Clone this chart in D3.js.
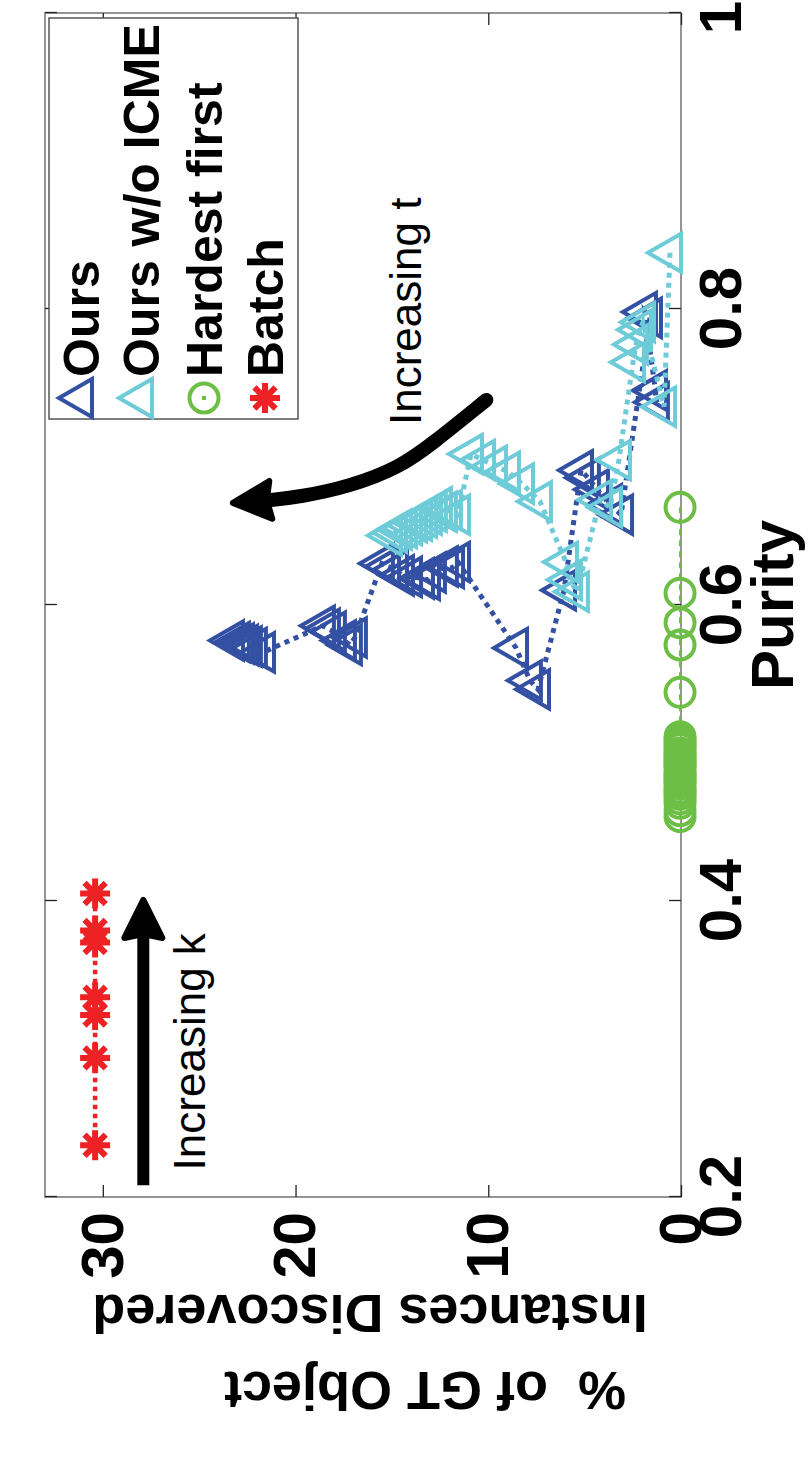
<!DOCTYPE html>
<html>
<head>
<meta charset="utf-8">
<script src="https://cdn.jsdelivr.net/npm/d3@7"></script>
<style>
  body { margin: 0; background: #fff; }
  text { font-family: "Liberation Sans", Arial, Helvetica, sans-serif; }
</style>
</head>
<body>
<div id="chart"></div>
<script>
// Purity vs. % of GT object instances discovered (figure is printed rotated)
const purityTicks = [0.2, 0.4, 0.6, 0.8, 1];
const pctTicks = [0, 10, 20, 30];

const seriesNames = ["Ours", "Ours w/o ICME", "Hardest first", "Batch"];

const oursPurity = [0.745, 0.737, 0.798, 0.794, 0.661, 0.668, 0.678, 0.686, 0.691, 0.610,
                    0.543, 0.549, 0.571, 0.629, 0.625, 0.626, 0.622, 0.617, 0.618, 0.619,
                    0.620, 0.624, 0.626, 0.628, 0.578, 0.573, 0.576, 0.582, 0.584, 0.586,
                    0.568, 0.571, 0.572, 0.573, 0.574, 0.575, 0.576];
const oursPct    = [1.35, 1.25, 1.87, 1.61, 3.11, 3.68, 4.36, 4.83, 5.19, 6.07,
                    7.42, 7.84, 8.56, 11.57, 11.88, 12.20, 12.82, 13.13, 13.44, 14.06,
                    14.48, 14.79, 15.20, 15.52, 16.92, 17.18, 17.49, 18.01, 18.32, 18.58,
                    21.69, 22.11, 22.37, 22.57, 22.78, 22.99, 23.30];

const noIcmePurity = [0.838, 0.734, 0.791, 0.786, 0.776, 0.764, 0.698, 0.666, 0.671, 0.609,
                      0.617, 0.629, 0.670, 0.682, 0.690, 0.694, 0.698, 0.702, 0.661, 0.664,
                      0.663, 0.666, 0.663, 0.661, 0.659, 0.657, 0.656, 0.654, 0.652, 0.651,
                      0.649, 0.647];
const noIcmePct    = [0.57, 0.88, 1.97, 2.13, 2.34, 2.49, 3.22, 3.68, 4.20, 5.40,
                      5.76, 5.97, 7.32, 8.25, 8.98, 9.65, 10.27, 10.90, 11.57, 11.99,
                      12.25, 12.51, 12.77, 13.03, 13.28, 13.54, 13.80, 14.06, 14.32, 14.58,
                      14.84, 15.10];

const hardestPurity = [0.666, 0.608, 0.588, 0.573, 0.541, 0.511, 0.509, 0.507, 0.505, 0.503,
                       0.500, 0.498, 0.496, 0.494, 0.492, 0.490, 0.487, 0.485, 0.483, 0.481,
                       0.479, 0.476, 0.474, 0.472, 0.469, 0.466, 0.461, 0.457];
const hardestPct    = [0.05, 0.05, 0.05, 0.05, 0.05, 0.05, 0.05, 0.05, 0.05, 0.05,
                       0.05, 0.05, 0.05, 0.05, 0.05, 0.05, 0.05, 0.05, 0.05, 0.05,
                       0.05, 0.05, 0.05, 0.05, 0.05, 0.05, 0.05, 0.05];

const batchPurity = [0.235, 0.294, 0.323, 0.335, 0.372, 0.380, 0.405];
const batchPct    = [30.4, 30.4, 30.4, 30.4, 30.4, 30.4, 30.4];

// annotation anchors, in data units
const arrowT = [[0.7385, 10.1], [0.709, 12.9], [0.693, 14.6], [0.680, 17.2], [0.673, 19.8], [0.671, 21.3]];
const arrowTTip = [0.669, 23.25];
const arrowK = [[0.208, 27.9], [0.376, 27.9]];
const arrowKTip = [0.4007, 27.9];

const colors = { ours: "#3350a3", noIcme: "#6ecbd8", hardest: "#6cbe45", batch: "#ee2224" };

const W = 1465, H = 810;   // chart drawn unrotated, then turned a quarter
const svg = d3.select("#chart").append("svg")
    .attr("width", 810)
    .attr("height", 1465);

const g = svg.append("g")
    .attr("transform", `translate(0,${W}) rotate(-90)`);

const x = d3.scaleLinear().domain([0.2, 1]).range([268, 1452]);
const y = d3.scaleLinear().domain([0, 33]).range([681, 45]);

const zip = (a, b) => a.map((d, i) => [d, b[i]]);

// frame
g.append("rect")
    .attr("x", x(0.2)).attr("y", y(33))
    .attr("width", x(1) - x(0.2)).attr("height", y(0) - y(33))
    .attr("fill", "none").attr("stroke", "#8a8a8a").attr("stroke-width", 1.8);

function styleAxis(sel) {
    sel.select(".domain").remove();
    sel.selectAll(".tick line").attr("stroke", "#222").attr("stroke-width", 1.3);
    sel.selectAll(".tick text")
        .attr("fill", "#000")
        .style("font-size", "60px")
        .style("font-weight", "bold");
}

const xAxis = g.append("g")
    .attr("transform", `translate(0,${y(0)})`)
    .call(d3.axisBottom(x).tickValues(purityTicks).tickSizeInner(-12).tickSizeOuter(0)
        .tickPadding(17).tickFormat(d => d === 1 ? "1" : d3.format(".1f")(d)))
    .call(styleAxis);
// keep the "1" inside the page edge
xAxis.selectAll(".tick text").filter(d => d === 1).attr("dx", "-5");

g.append("g")
    .attr("transform", `translate(0,${y(33)})`)
    .call(d3.axisTop(x).tickValues(purityTicks).tickSizeInner(-12).tickSizeOuter(0).tickFormat(""))
    .call(styleAxis);

g.append("g")
    .attr("transform", `translate(${x(0.2)},0)`)
    .call(d3.axisLeft(y).tickValues(pctTicks).tickSizeInner(-12).tickSizeOuter(0).tickPadding(15))
    .call(styleAxis);

g.append("g")
    .attr("transform", `translate(${x(1)},0)`)
    .call(d3.axisRight(y).tickValues(pctTicks).tickSizeInner(-12).tickSizeOuter(0).tickFormat(""))
    .call(styleAxis);

// axis labels
g.append("text")
    .attr("x", x(0.6)).attr("y", 793)
    .attr("text-anchor", "middle")
    .style("font-size", "60px").style("font-weight", "bold")
    .text("Purity");

g.append("text")
    .attr("transform", `translate(170,370) rotate(-90)`)
    .attr("text-anchor", "middle")
    .style("font-size", "54px").style("font-weight", "bold")
    .text("Instances Discovered");

g.append("text")
    .attr("transform", `translate(93,425) rotate(-90)`)
    .attr("text-anchor", "middle")
    .style("font-size", "54px").style("font-weight", "bold")
    .style("white-space", "pre")
    .text("%  of GT Object");

// markers
const triangle = d3.symbol(d3.symbolTriangle, 630);
const asterisk = {
    draw(ctx, size) {
        const r = Math.sqrt(size) / 2, d = r * Math.SQRT1_2;
        ctx.moveTo(-r, 0); ctx.lineTo(r, 0);
        ctx.moveTo(0, -r); ctx.lineTo(0, r);
        ctx.moveTo(-d, -d); ctx.lineTo(d, d);
        ctx.moveTo(-d, d); ctx.lineTo(d, -d);
    }
};
const star = d3.symbol(asterisk, 900);

const line = d3.line().x(d => x(d[0])).y(d => y(d[1]));

function drawSeries(pts, color, dash, lw, marker) {
    g.append("path")
        .datum(pts)
        .attr("d", line)
        .attr("fill", "none")
        .attr("stroke", color)
        .attr("stroke-width", lw)
        .attr("stroke-dasharray", dash);
    const m = g.append("g");
    pts.forEach(p => {
        const node = m.append(marker === "circle" ? "circle" : "path")
            .attr("fill", "none")
            .attr("stroke", color)
            .attr("stroke-width", marker === "star" ? 6 : 4);
        if (marker === "circle") {
            node.attr("cx", x(p[0])).attr("cy", y(p[1])).attr("r", 14.5);
        } else {
            node.attr("d", marker === "star" ? star() : triangle())
                .attr("transform", `translate(${x(p[0])},${y(p[1])})`);
        }
    });
}

drawSeries(zip(oursPurity, oursPct), colors.ours, "5 5", 5, "triangle");
drawSeries(zip(noIcmePurity, noIcmePct), colors.noIcme, "5 5", 5, "triangle");
drawSeries(zip(hardestPurity, hardestPct), colors.hardest, "6 5", 2, "circle");
drawSeries(zip(batchPurity, batchPct), colors.batch, "4.5 4.5", 4.5, "star");

// arrows
function arrowHead(from, tip, len, half) {
    const fx = x(from[0]), fy = y(from[1]), tx = x(tip[0]), ty = y(tip[1]);
    const dx = tx - fx, dy = ty - fy, L = Math.hypot(dx, dy);
    const ux = dx / L, uy = dy / L;
    const bx = tx - ux * len, by = ty - uy * len;
    g.append("path")
        .attr("d", `M${tx},${ty}L${bx - uy * half},${by + ux * half}L${bx + ux * 4},${by + uy * 4}L${bx + uy * half},${by - ux * half}Z`)
        .attr("fill", "#000").attr("stroke", "#000")
        .attr("stroke-width", 6).attr("stroke-linejoin", "round");
}

g.append("path")
    .datum(arrowT)
    .attr("d", line.curve(d3.curveBasis))
    .attr("fill", "none").attr("stroke", "#000").attr("stroke-width", 14)
    .attr("stroke-linecap", "round");
line.curve(d3.curveLinear);
arrowHead(arrowT[arrowT.length - 1], arrowTTip, 38, 19);

g.append("path")
    .datum(arrowK)
    .attr("d", line)
    .attr("fill", "none").attr("stroke", "#000").attr("stroke-width", 12);
arrowHead(arrowK[0], arrowKTip, 38, 19);

g.append("text")
    .attr("x", x(0.218)).attr("y", y(24.7))
    .style("font-size", "44px")
    .text("Increasing k");

g.append("text")
    .attr("x", x(0.7216)).attr("y", y(13.5))
    .style("font-size", "44px")
    .text("Increasing t");

// legend
const legend = g.append("g");
legend.append("rect")
    .attr("x", 1046).attr("y", 49)
    .attr("width", 401).attr("height", 249)
    .attr("fill", "#fff").attr("stroke", "#555").attr("stroke-width", 1.5);

const legendMarkers = ["triangle", "triangle", "circle", "star"];
const legendColors = [colors.ours, colors.noIcme, colors.hardest, colors.batch];
const rowY = [81, 141, 204, 265];

seriesNames.forEach((name, i) => {
    const cy = rowY[i];
    if (legendMarkers[i] === "circle") {
        legend.append("circle").attr("cx", 1067).attr("cy", cy).attr("r", 14.5)
            .attr("fill", "none").attr("stroke", legendColors[i]).attr("stroke-width", 4);
        legend.append("rect").attr("x", 1065).attr("y", cy - 2).attr("width", 4).attr("height", 4)
            .attr("fill", legendColors[i]);
    } else {
        legend.append("path")
            .attr("d", legendMarkers[i] === "star" ? star() : triangle())
            .attr("transform", `translate(1067,${cy})`)
            .attr("fill", "none").attr("stroke", legendColors[i])
            .attr("stroke-width", legendMarkers[i] === "star" ? 6 : 4);
    }
    legend.append("text")
        .attr("x", 1088).attr("y", cy + 18)
        .style("font-size", "50px").style("font-weight", "bold")
        .text(name);
});
</script>
</body>
</html>
